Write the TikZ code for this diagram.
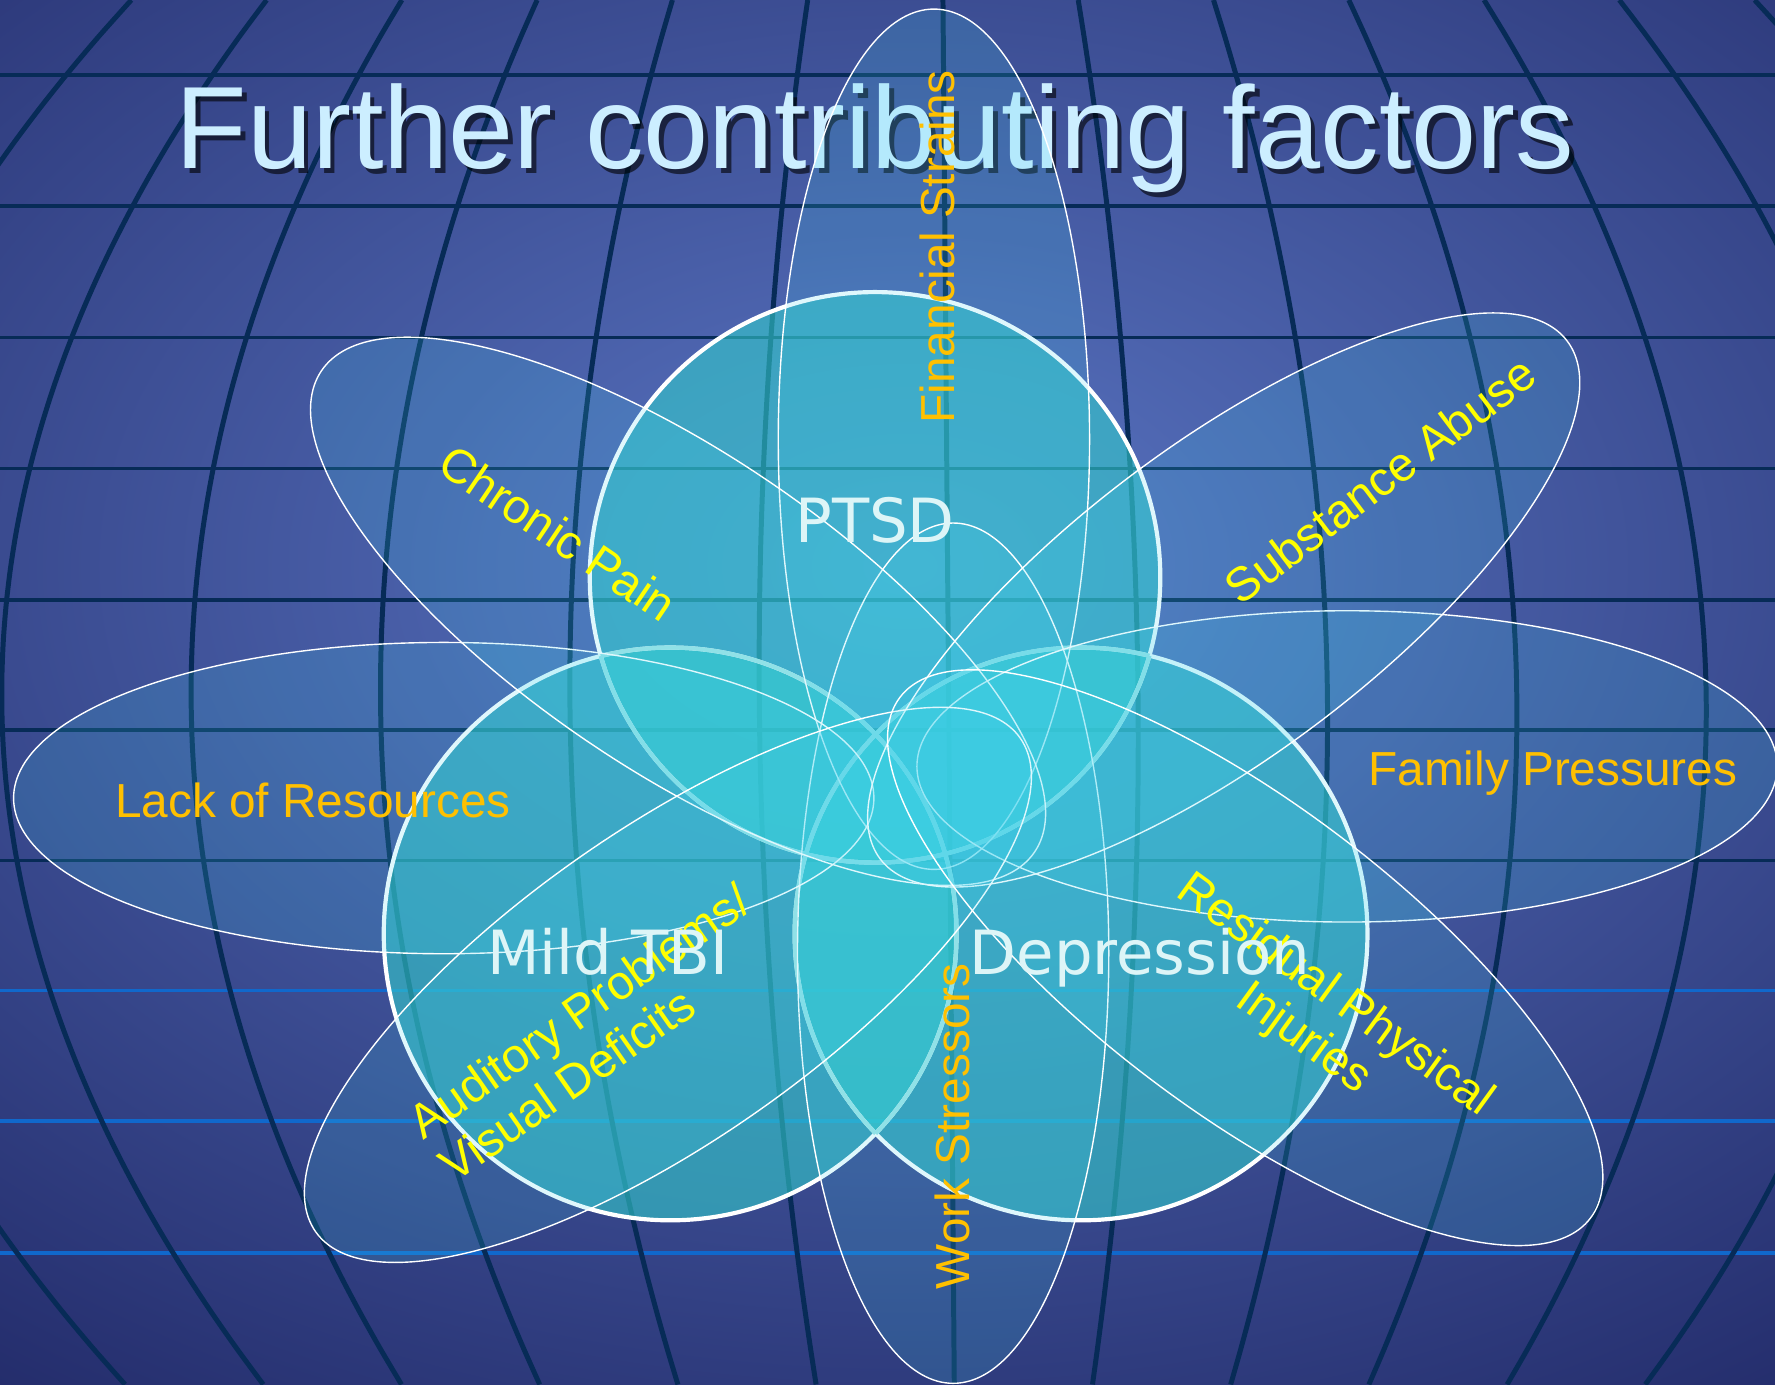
\documentclass[tikz,border=0pt]{standalone}
\usepackage{fontspec}
\setmainfont{Liberation Sans}
\newfontfamily\dejavu{DejaVu Sans}
\usetikzlibrary{shadings}
\definecolor{bgin}{HTML}{5A76C4}
\definecolor{bgout}{HTML}{242D6C}
\definecolor{gridnavy}{HTML}{072B57}
\definecolor{gridblue}{HTML}{1068CC}
\definecolor{titlecol}{HTML}{CCEEFF}
\definecolor{circfill}{HTML}{33CCCC}
\definecolor{fadedstroke}{HTML}{A0E4E6}
\definecolor{petalfill}{HTML}{42D4EE}
\definecolor{orangelab}{HTML}{FFC000}
\definecolor{yellowlab}{HTML}{FFFF00}
\definecolor{circlab}{HTML}{DDF5F7}
\begin{document}
\begin{tikzpicture}[x=0.01cm,y=-0.01cm,
  meridian/.style={draw=gridnavy, line width=1.25pt},
  parallelline/.style={draw=gridnavy, line width=0.9pt},
  parallelbright/.style={draw=gridblue, line width=0.9pt},
  circlefill/.style={fill=circfill, fill opacity=0.6},
  circlestroke/.style={draw=white, line width=1.05pt},
  circlefaded/.style={draw=fadedstroke, line width=1.05pt},
  petal/.style={draw=white, line width=0.35pt, fill=petalfill, fill opacity=0.17},
  orangetext/.style={text=orangelab, font=\fontsize{12}{13.4}\selectfont, inner sep=0pt},
  yellowtext/.style={text=yellowlab, font=\fontsize{12}{13.4}\selectfont, inner sep=0pt},
  circletext/.style={text=circlab, font=\dejavu\fontsize{15.3}{18}\selectfont, inner sep=0pt},
  titletext/.style={font=\fontsize{29.4}{35}\selectfont, inner sep=0pt, anchor=base},
]
\useasboundingbox (0,0) rectangle (1568,1223);
% background
\fill[bgout] (0,0) rectangle (1568,1223);
\begin{scope}
  \clip (0,0) rectangle (1568,1223);
  \shade[inner color=bgin, outer color=bgout] (800,500) ellipse [x radius=1350, y radius=900];
  % parallels
  \foreach \yy in {66,182,298,414,530,645,760}
    \draw[parallelline] (0,\yy) -- (1568,\yy);
  \foreach \yy in {875,990,1107}
    \draw[parallelbright] (0,\yy) -- (1568,\yy);
  % meridians
  \foreach \k in {-6,...,6}
    \draw[meridian] plot[domain=0:1223, samples=40, smooth, variable=\t]
      ({833+10*\t/1223+119.5*\k*(1.4-0.4*((\t-620)/620)^2)}, {\t});
\end{scope}

% title
\node[titletext, text=black, opacity=0.6] (titleshadow) at (777,153) {Further contributing factors};
\node[titletext, text=titlecol] (title) at (773,149) {Further contributing factors};

% circles: fills, strokes, faded strokes inside the other circles
\coordinate (cP) at (773,510);
\coordinate (cT) at (592,825);
\coordinate (cD) at (955,825);
\fill[circlefill] (cP) circle (252);
\fill[circlefill] (cT) circle (253);
\fill[circlefill] (cD) circle (253);
\draw[circlestroke] (cP) circle (252);
\draw[circlestroke] (cT) circle (253);
\draw[circlestroke] (cD) circle (253);
\begin{scope}\clip (cT) circle (253); \draw[circlefaded] (cP) circle (252); \draw[circlefaded] (cD) circle (253); \end{scope}
\begin{scope}\clip (cD) circle (253); \draw[circlefaded] (cP) circle (252); \draw[circlefaded] (cT) circle (253); \end{scope}
\begin{scope}\clip (cP) circle (252); \draw[circlefaded] (cT) circle (253); \draw[circlefaded] (cD) circle (253); \end{scope}

% petals
\draw[petal, shift={(825,388)}, rotate=90] (0,0) ellipse [x radius=380, y radius=137.5];
\draw[petal, shift={(842,842)}, rotate=90] (0,0) ellipse [x radius=380, y radius=137.5];
\draw[petal, shift={(392,705)}] (0,0) ellipse [x radius=380, y radius=137.5];
\draw[petal, shift={(1190,677)}] (0,0) ellipse [x radius=380, y radius=137.5];
\draw[petal, shift={(599,540)}, rotate=-34] (0,0) ellipse [x radius=380, y radius=140];
\draw[petal, shift={(1081,530)}, rotate=37] (0,0) ellipse [x radius=380, y radius=137];
\draw[petal, shift={(590,870)}, rotate=35] (0,0) ellipse [x radius=380, y radius=137];
\draw[petal, shift={(1100,846)}, rotate=-37] (0,0) ellipse [x radius=382, y radius=136];

% petal labels
\node[orangetext, anchor=base west] (lack) at (101,722) {Lack of Resources};
\node[orangetext, anchor=base west] (family) at (1208,694) {Family Pressures};
\node[orangetext, rotate=90] (financial) at (828,218) {Financial Strains};
\node[orangetext, rotate=90] (work) at (841,995) {Work Stressors};
\node[yellowtext, rotate=-34] (chronic) at (493,471) {Chronic Pain};
\node[yellowtext, rotate=37] (substance) at (1219,424) {Substance Abuse};
\node[yellowtext, rotate=35, align=left] (auditory) at (525,912) {Auditory Problems/\\Visual Deficits};
\node[yellowtext, rotate=-36, align=center] (residual) at (1165,899) {Residual Physical\\Injuries};

% circle labels
\node[circletext, anchor=base] (ptsd) at (773,479) {PTSD};
\node[circletext, anchor=base] (tbi) at (537,861) {Mild TBI};
\node[circletext, anchor=base] (dep) at (1007,861) {Depression};
\end{tikzpicture}
\end{document}
